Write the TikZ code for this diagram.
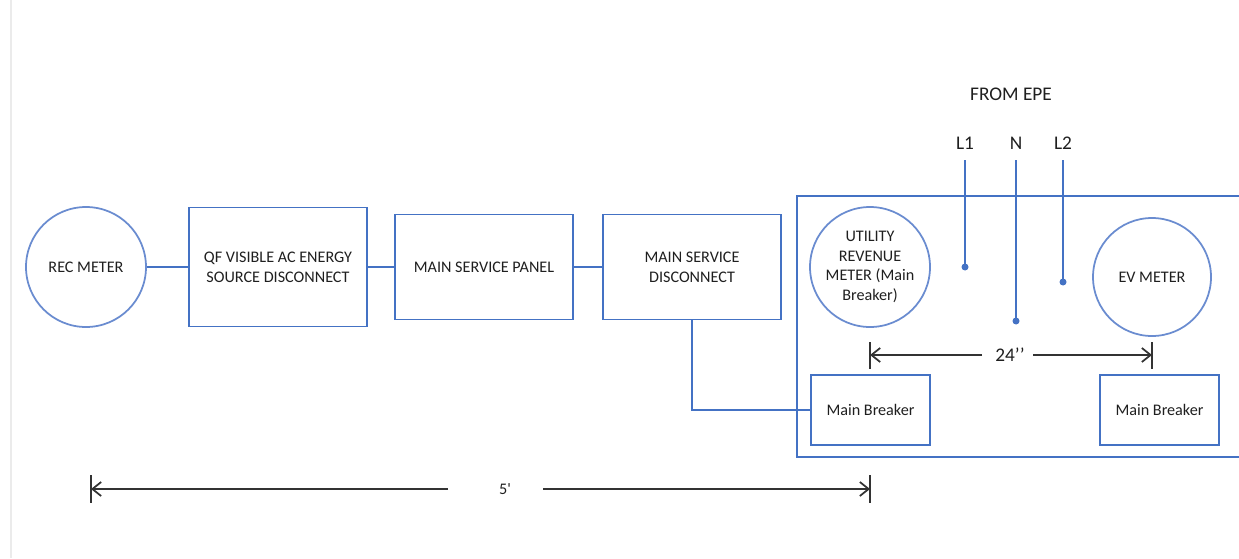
\documentclass[tikz,border=0pt]{standalone}
\usepackage{fontspec}
\setmainfont{Carlito}
\newfontfamily\nolig{Carlito}[Ligatures=TeXOff]
\usetikzlibrary{arrows.meta}
\definecolor{ob}{HTML}{4472C4}
\definecolor{oc}{HTML}{6A8CD0}
\definecolor{tx}{HTML}{1F1F1F}
\begin{document}
\begin{tikzpicture}[x=0.02cm,y=-0.02cm,
  every node/.style={font=\fontsize{9.2pt}{11.3pt}\selectfont, text=tx},
  big/.style={font=\fontsize{11pt}{13pt}\selectfont},
  blk/.style={draw=ob, line width=1pt, align=center, inner sep=0pt},
  mtr/.style={draw=oc, line width=1pt, circle, align=center, inner sep=0pt, minimum size=120*0.02cm},
  wire/.style={draw=ob, line width=1pt},
  dot/.style={circle, fill=ob, inner sep=0pt, minimum size=7*0.02cm},
  dimline/.style={draw=black!80, line width=1pt},
  dimarr/.style={dimline, -{Straight Barb[length=5pt,width=8pt]}}]
\useasboundingbox (0,0) rectangle (1239,558);
\clip (0,0) rectangle (1239,558);
\draw[black!8, line width=0.6pt] (11,0) -- (11,558);
% left chain
\node[mtr] (rec) at (86,267) {REC METER};
\node[blk, minimum width=178*0.02cm, minimum height=119*0.02cm] (qf) at (278,267) {QF VISIBLE AC ENERGY\\SOURCE DISCONNECT};
\node[blk, minimum width=178*0.02cm, minimum height=105*0.02cm] (msp) at (484,267) {MAIN SERVICE PANEL};
\node[blk, minimum width=178*0.02cm, minimum height=105*0.02cm] (msd) at (692,267) {MAIN SERVICE\\DISCONNECT};
\draw[wire] (rec.east) -- (qf.west);
\draw[wire] (qf.east) -- (msp.west);
\draw[wire] (msp.east) -- (msd.west);
% enclosure
\node[blk, minimum width=460*0.02cm, minimum height=261*0.02cm, anchor=north west] (enc) at (796,195) {};
\node[mtr] (urm) at (870,267) {UTILITY\\REVENUE\\METER (Main\\Breaker)};
\node[mtr, minimum size=118*0.02cm] (ev) at (1152,277) {EV METER};
\node[blk, minimum width=119*0.02cm, minimum height=70*0.02cm] (mb1) at (870.5,410) {Main Breaker};
\node[blk, minimum width=119*0.02cm, minimum height=70*0.02cm] (mb2) at (1159.5,410) {Main Breaker};
\draw[wire] (msd.south) |- (mb1.west);
% from EPE
\node[big] (epe) at (1011,94) {FROM EPE};
\node[big] (l1) at (965,143) {L1};
\node[big] (n) at (1016,143) {N};
\node[big] (l2) at (1063,143) {L2};
\node[dot] (d1) at (965,267) {};
\node[dot] (dn) at (1016,321) {};
\node[dot] (d2) at (1063,282) {};
\coordinate (t1) at (965,160);
\coordinate (tn) at (1016,160);
\coordinate (t2) at (1063,160);
\draw[wire] (t1) -- (d1.center);
\draw[wire] (tn) -- (dn.center);
\draw[wire] (t2) -- (d2.center);
% 24" dimension
\coordinate (a24) at (870,355);
\coordinate (b24) at (1152,355);
\node[big] (t24) at (1010,355) {24’’};
\coordinate (g24a) at (982,355);
\coordinate (g24b) at (1033,355);
\draw[dimline] (870,342) -- (870,369);
\draw[dimline] (1152,342) -- (1152,369);
\draw[dimarr] (g24a) -- (a24);
\draw[dimarr] (g24b) -- (b24);
% 5' dimension
\coordinate (a5) at (91,489);
\coordinate (b5) at (870,489);
\node (t5) at (505,489) {\nolig 5'};
\coordinate (g5a) at (448,489);
\coordinate (g5b) at (543,489);
\draw[dimline] (91,475) -- (91,503);
\draw[dimline] (870,475) -- (870,503);
\draw[dimarr] (g5a) -- (a5);
\draw[dimarr] (g5b) -- (b5);
\end{tikzpicture}
\end{document}
